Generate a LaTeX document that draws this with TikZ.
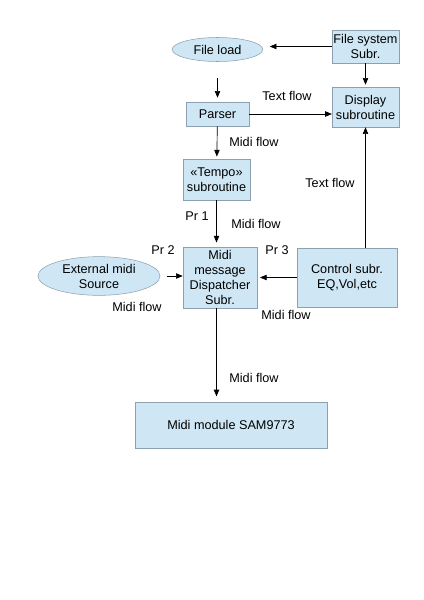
\documentclass[tikz,border=0pt]{standalone}
\usepackage{fontspec}
\setmainfont{Liberation Sans}
\definecolor{BoxFill}{RGB}{207,231,245}
\definecolor{BoxLine}{RGB}{140,160,175}
\usetikzlibrary{arrows.meta,shapes.geometric}

\begin{document}
\begin{tikzpicture}[
    x=0.75pt, y=-0.75pt,
    box/.style={draw=BoxLine, fill=BoxFill, align=center, inner sep=1pt, font=\fontsize{9.5}{11.25}\selectfont},
    oval/.style={box, ellipse, inner sep=0pt},
    lbl/.style={font=\fontsize{9.5}{11.25}\selectfont},
    arr/.style={-{Triangle[length=5pt,width=4pt]}, line width=0.5pt}
]
    \useasboundingbox (0,0) rectangle (424,600);

    \node[oval, minimum width=68pt, minimum height=18pt] (fileload) at (217.5,49.5) {File load};
    \node[box, minimum width=50pt, minimum height=25pt] (fsys) at (365.5,46.5) {File system\\Subr.};
    \node[box, minimum width=50pt, minimum height=30pt] (display) at (365.5,107) {Display\\subroutine};
    \node[box, minimum width=47pt, minimum height=18pt] (parser) at (217.5,114) {Parser};
    \node[box, minimum width=50pt, minimum height=31pt] (tempo) at (216.5,179.5) {«Tempo»\\subroutine};
    \node[box, minimum width=55.5pt, minimum height=46pt] (dispatch) at (220,277.5) {Midi\\message\\Dispatcher\\Subr.};
    \node[box, minimum width=75pt, minimum height=44pt] (control) at (347,277.5) {Control subr.\\EQ,Vol,etc};
    \node[oval, minimum width=91.5pt, minimum height=29pt] (extsrc) at (99,276) {External midi\\Source};
    \node[box, minimum width=144pt, minimum height=34.5pt] (sam) at (231,425) {Midi module SAM9773};

    \draw[arr, shorten >=5pt] (fsys.west) -- (fileload.east |- fsys.west);
    \draw[arr, shorten >=1.5pt] (fsys) -- (display);
    \draw[arr, shorten <=12pt, shorten >=3pt] (fileload) -- (parser);
    \draw[arr] (parser.east) -- (parser.east -| display.west);
    \draw[arr, shorten >=1.5pt] (parser) -- (tempo);
    \draw[arr, shorten >=3pt] (tempo.south) -- (tempo.south |- dispatch.north);
    \draw[arr, shorten <=5pt] (extsrc.east) -- (extsrc.east -| dispatch.west);
    \draw[arr, shorten >=2pt] (control.west) -- (control.west -| dispatch.east);
    \draw[arr] (display |- control.north) -- (display.south);
    \draw[arr, shorten >=4pt] (tempo.south |- dispatch.south) -- (tempo.south |- sam.north);

    \node[lbl] (tf1) at (287,96) {Text flow};
    \node[lbl] (mf1) at (254,142) {Midi flow};
    \node[lbl] (tf2) at (330,183) {Text flow};
    \node[lbl] (pr1) at (197,216) {Pr 1};
    \node[lbl] (mf2) at (256,224) {Midi flow};
    \node[lbl] (pr2) at (163,250) {Pr 2};
    \node[lbl] (pr3) at (277,250) {Pr 3};
    \node[lbl] (mf3) at (137,307) {Midi flow};
    \node[lbl] (mf4) at (286,315) {Midi flow};
    \node[lbl] (mf5) at (254,378) {Midi flow};
\end{tikzpicture}
\end{document}
